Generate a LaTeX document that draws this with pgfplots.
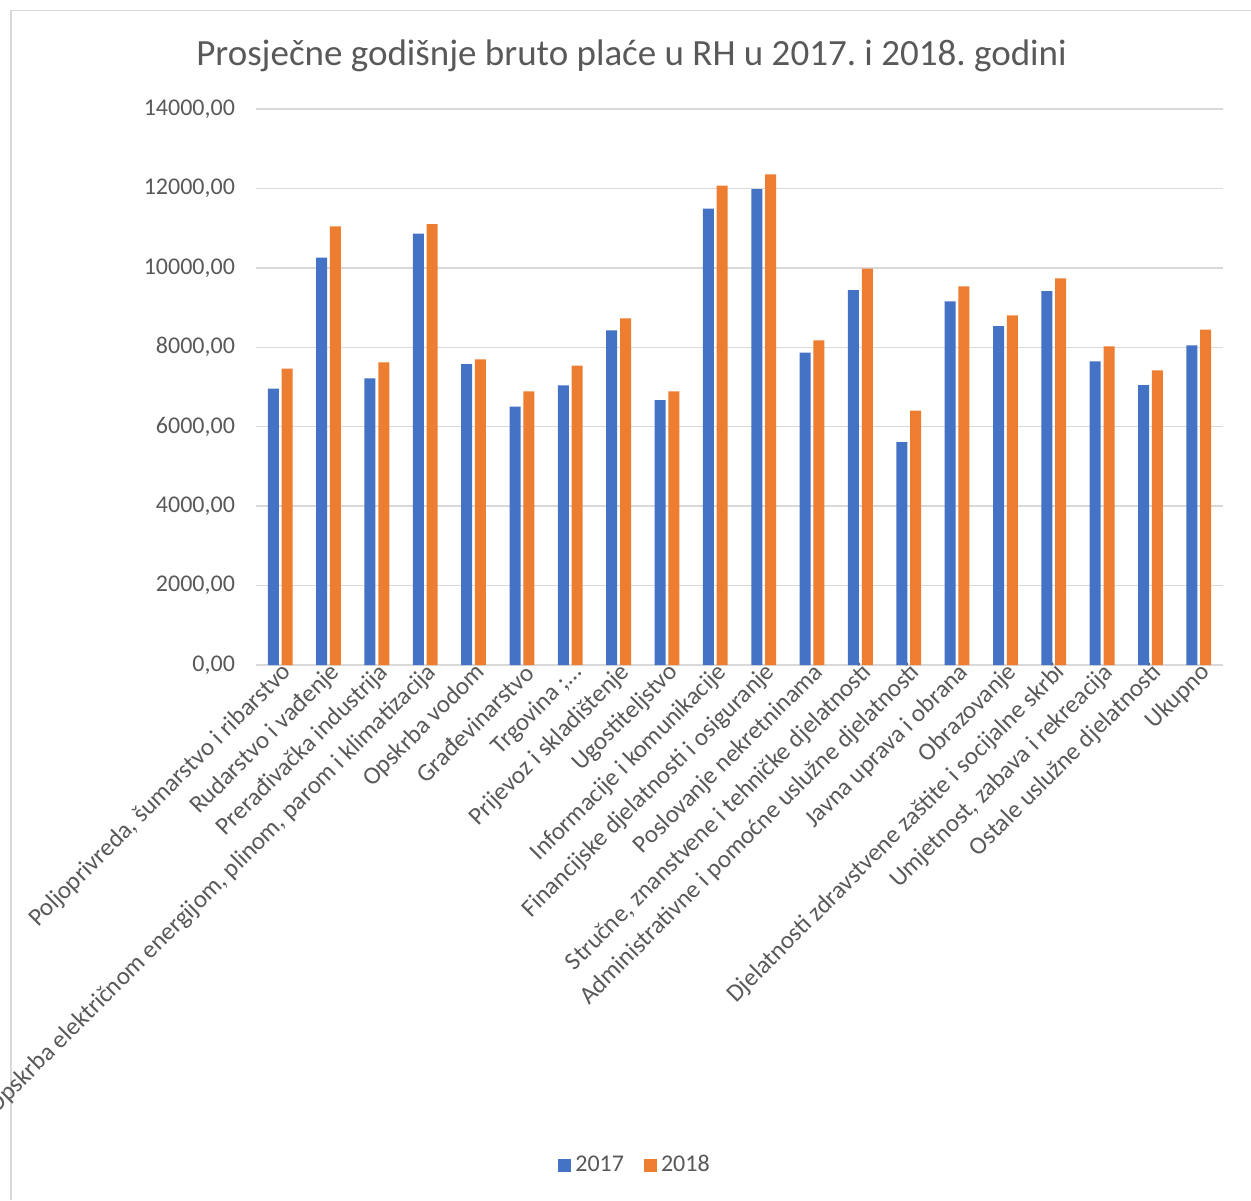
\documentclass[border=0pt]{standalone}
\usepackage{pgfplots}
\pgfplotsset{compat=1.18}
\usepackage{fontspec}
\setmainfont{Carlito}
\frenchspacing
\definecolor{xlblue}{HTML}{4472C4}
\definecolor{xlorange}{HTML}{ED7D31}
\definecolor{xltext}{HTML}{595959}
\definecolor{xlgrid}{HTML}{D9D9D9}

\begin{document}
\begin{tikzpicture}
% page = 1251x1200 px, 1 px = 0.5pt
\useasboundingbox (0pt,-600pt) rectangle (625.5pt,0pt);
\draw[xlgrid, line width=0.6pt] (5.5pt,-600pt) -- (5.5pt,-5.35pt) -- (625.5pt,-5.35pt);
\node[font=\fontsize{18.5}{20}\selectfont, text=xltext, anchor=base] at (315.75pt,-32.5pt)
  {Prosječne godišnje bruto plaće u RH u 2017. i 2018. godini};
\begin{axis}[
    at={(128pt,-332.55pt)}, anchor=south west,
    scale only axis, width=483.5pt, height=278.1pt,
    xmin=-0.5, xmax=19.5, ymin=0, ymax=14000,
    ytick={0,2000,...,14000},
    scaled y ticks=false,
    xtick=data,
    xticklabels={
      {Poljoprivreda, šumarstvo i ribarstvo},
      {Rudarstvo i vađenje},
      {Prerađivačka industrija},
      {Opskrba električnom energijom, plinom, parom i klimatizacija},
      {Opskrba vodom},
      {Građevinarstvo},
      {Trgovina ;…},
      {Prijevoz i skladištenje},
      {Ugostiteljstvo},
      {Informacije i komunikacije},
      {Financijske djelatnosti i osiguranje},
      {Poslovanje nekretninama},
      {Stručne, znanstvene i tehničke djelatnosti},
      {Administrativne i pomoćne uslužne djelatnosti},
      {Javna uprava i obrana},
      {Obrazovanje},
      {Djelatnosti zdravstvene zaštite i socijalne skrbi},
      {Umjetnost, zabava i rekreacija},
      {Ostale uslužne djelatnosti},
      {Ukupno}},
    ymajorgrids, grid style={xlgrid, line width=0.75pt},
    axis line style={draw=none},
    major tick length=0pt,
    ybar=1.4pt, bar width=5.5pt,
    /pgf/number format/assume math mode=true,
    tick label style={font=\fontsize{12}{14}\selectfont, text=xltext},
    yticklabel style={/pgf/number format/fixed, /pgf/number format/fixed zerofill,
      /pgf/number format/precision=2, /pgf/number format/use comma,
      /pgf/number format/1000 sep={}, anchor=east, xshift=-7pt},
    xticklabel style={rotate=45, anchor=east, inner sep=1pt, xshift=2.5pt, yshift=-4pt,
      font=\fontsize{12.5}{14}\selectfont},
    legend style={at={(axis description cs:0.393,-0.899)}, anchor=center, draw=none,
      legend columns=2, font=\fontsize{12}{14}\selectfont, text=xltext,
      /tikz/every even column/.append style={column sep=8pt}},
]
\addplot[fill=xlblue, draw=none,
  legend image code/.code={\fill[xlblue] (0pt,-3.25pt) rectangle (6.5pt,3.25pt);}]
  coordinates {
  (0,6957) (1,10254) (2,7218) (3,10859) (4,7579) (5,6505) (6,7042) (7,8426) (8,6672) (9,11488)
  (10,11983) (11,7864) (12,9441) (13,5615) (14,9156) (15,8535) (16,9416) (17,7646) (18,7050) (19,8049)
};
\addplot[fill=xlorange, draw=none,
  legend image code/.code={\fill[xlorange] (0pt,-3.25pt) rectangle (6.5pt,3.25pt);}]
  coordinates {
  (0,7460) (1,11044) (2,7621) (3,11103) (4,7696) (5,6891) (6,7537) (7,8728) (8,6891) (9,12067)
  (10,12353) (11,8175) (12,9978) (13,6404) (14,9534) (15,8803) (16,9735) (17,8023) (18,7419) (19,8443)
};
\legend{2017, 2018}
\end{axis}
\end{tikzpicture}
\end{document}
